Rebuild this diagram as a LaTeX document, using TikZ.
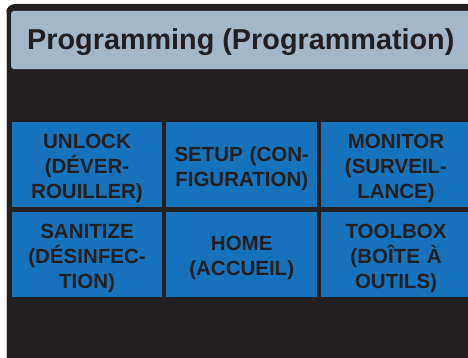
\documentclass[tikz,border=0pt]{standalone}
\usepackage{fontspec}
\setmainfont{Liberation Sans}
\definecolor{panel}{RGB}{35,31,32}
\definecolor{headbar}{RGB}{163,183,200}
\definecolor{tileblue}{RGB}{22,114,186}
\definecolor{inktext}{RGB}{35,31,32}
\tikzset{
  tile/.style={fill=tileblue, minimum width=150.5pt, minimum height=85pt, inner sep=0pt},
  tilelabel/.style={text=inktext, inner sep=0pt, align=center, text width=148pt,
    yshift=-3.5pt, font=\fontsize{20.5}{25}\selectfont\bfseries},
  titletext/.style={text=inktext, inner sep=0pt, anchor=base west,
    font=\fontsize{28.8}{34}\selectfont\bfseries}
}
\begin{document}
\begin{tikzpicture}[x=1pt,y=1pt]
  \useasboundingbox (0,0) rectangle (468,357);
  \clip (0,0) rectangle (468,357);
  % device screen frame
  \fill[panel, rounded corners=9pt] (6,353) rectangle (480,-10);
  \draw[gray!45, line width=0.6pt] (6.3,-10) -- (6.3,345);
  % header bar
  \fill[headbar, rounded corners=3pt] (11,346) -- (480,346) -- (480,288) -- (11,288) -- cycle;
  \node[titletext] (title) at (27,307) {Programming (Programmation)};
  % menu tiles
  \node[tile] (unlock)   at (87,192.2)    {};
  \node[tile] (setup)    at (241.7,192.2) {};
  \node[tile] (monitor)  at (396,192.2)   {};
  \node[tile] (sanitize) at (87,102.5)    {};
  \node[tile] (home)     at (241.7,102.5) {};
  \node[tile] (toolbox)  at (396,102.5)   {};
  % tile captions
  \node[tilelabel] (unlockL)   at (unlock)   {UNLOCK\\(DÉVER-\\ROUILLER)};
  \node[tilelabel] (setupL)    at (setup)    {SETUP (CON-\\FIGURATION)};
  \node[tilelabel] (monitorL)  at (monitor)  {MONITOR\\(SURVEIL-\\LANCE)};
  \node[tilelabel] (sanitizeL) at (sanitize) {SANITIZE\\(DÉSINFEC-\\TION)};
  \node[tilelabel] (homeL)     at (home)     {HOME\\(ACCUEIL)};
  \node[tilelabel] (toolboxL)  at (toolbox)  {TOOLBOX\\(BOÎTE À\\OUTILS)};
\end{tikzpicture}
\end{document}
